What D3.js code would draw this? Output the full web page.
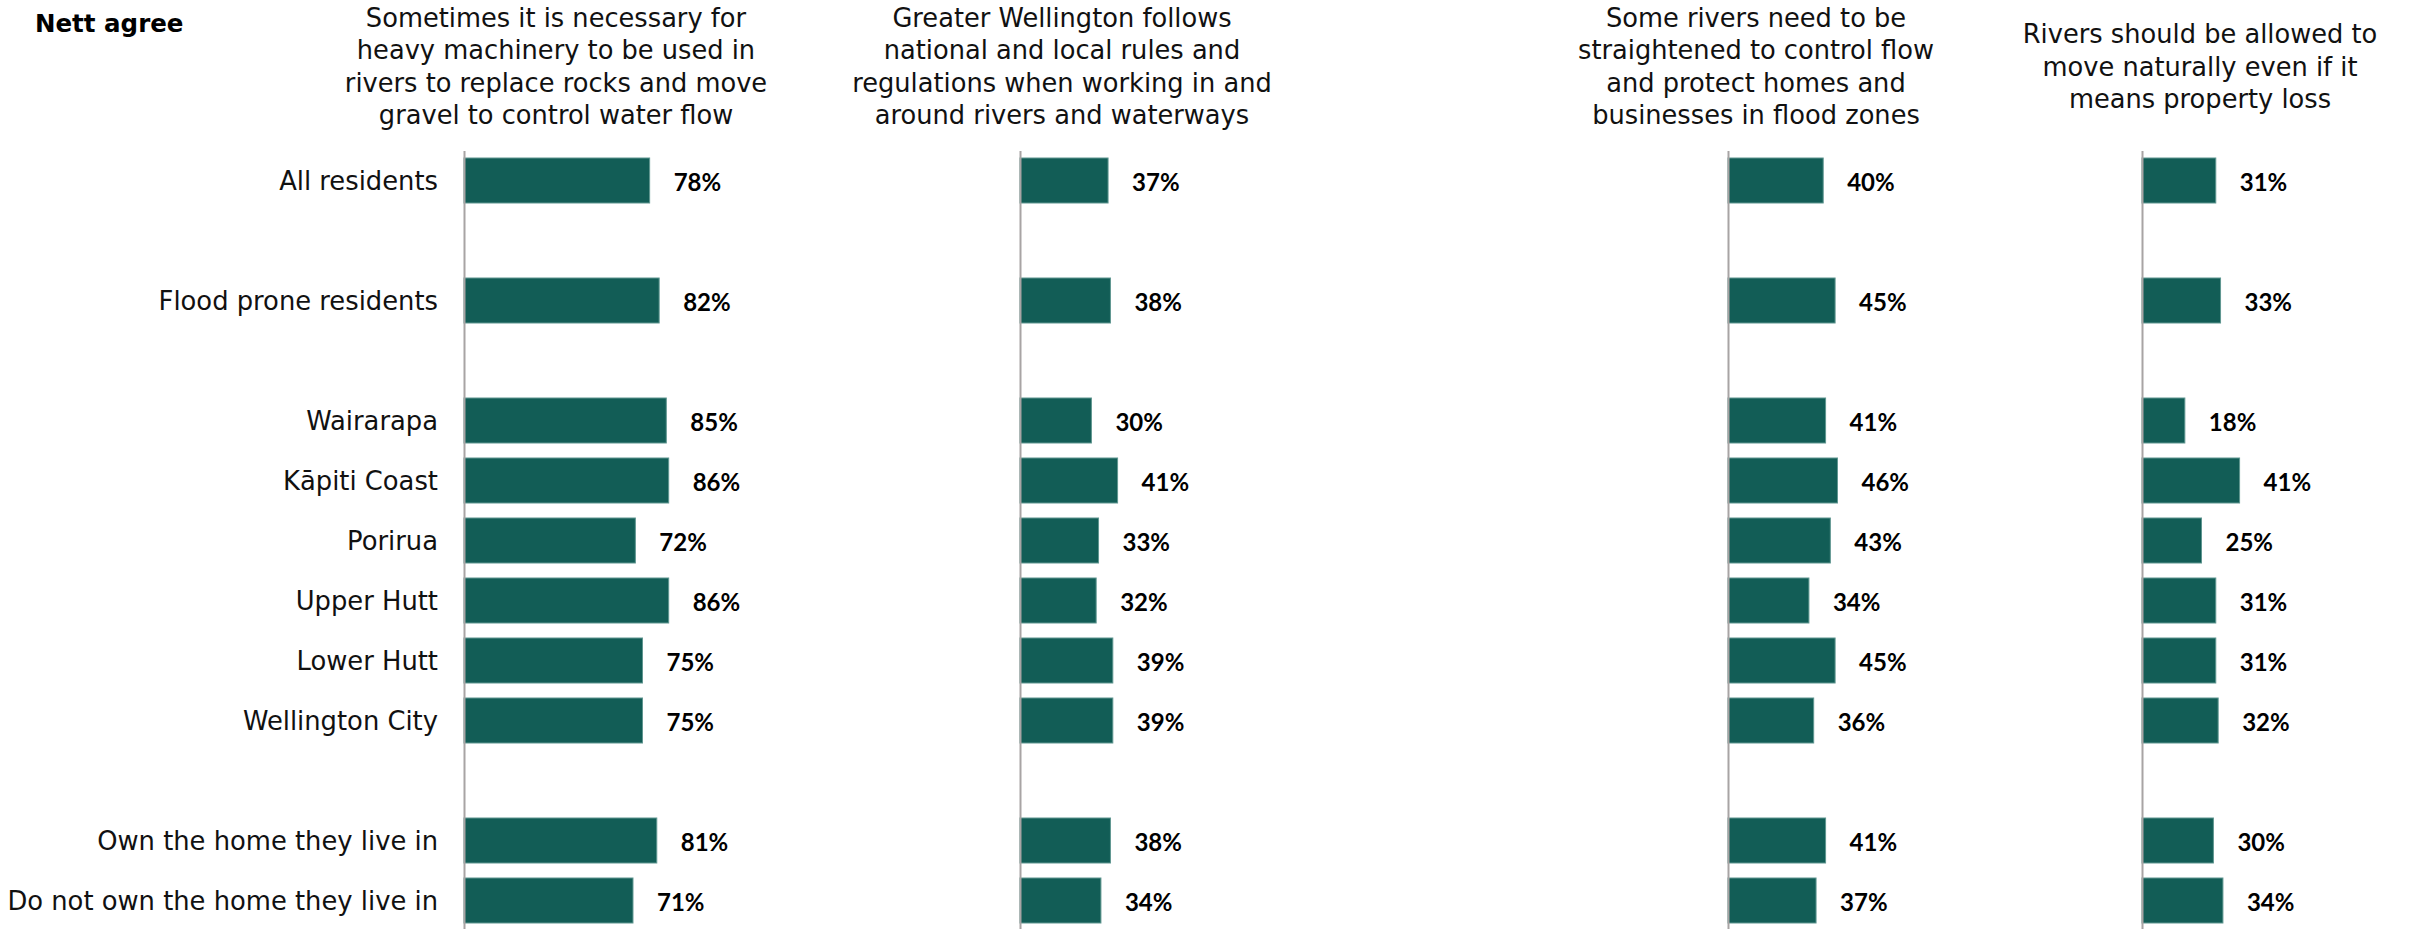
<!DOCTYPE html>
<html>
<head>
<meta charset="utf-8">
<script src="https://cdn.jsdelivr.net/npm/d3@7"></script>
<style>
  body { margin: 0; background: #ffffff; }
  #chart text { font-family: "DejaVu Sans", Lato, sans-serif; }
</style>
</head>
<body>
<div id="chart"></div>
<script>
// rows, grouped: a blank row sits between groups
const categoryGroups = [
  [`All residents`],
  [`Flood prone residents`],
  [`Wairarapa`, `Kāpiti Coast`, `Porirua`, `Upper Hutt`, `Lower Hutt`, `Wellington City`],
  [`Own the home they live in`, `Do not own the home they live in`],
];

const questionTitles = [
  [`Sometimes it is necessary for`, `heavy machinery to be used in`, `rivers to replace rocks and move`, `gravel to control water flow`],
  [`Greater Wellington follows`, `national and local rules and`, `regulations when working in and`, `around rivers and waterways`],
  [`Some rivers need to be`, `straightened to control flow`, `and protect homes and`, `businesses in flood zones`],
  [`Rivers should be allowed to`, `move naturally even if it`, `means property loss`],
];

// Nett agree (%), same order as the rows above
const machineryValues = [78, 82, 85, 86, 72, 86, 75, 75, 81, 71];
const rulesValues = [37, 38, 30, 41, 33, 32, 39, 39, 38, 34];
const straightenValues = [40, 45, 41, 46, 43, 34, 45, 36, 41, 37];
const naturalValues = [31, 33, 18, 41, 25, 31, 31, 32, 30, 34];

const seriesValues = [machineryValues, rulesValues, straightenValues, naturalValues];

const options = {
  width: 2412,
  height: 929,
  rowTop: 150.5,
  rowStep: 60,
  barWidthFull: 238, // px for 100%
  panels: [
    { axisX: 464, titleX: 556 },
    { axisX: 1020, titleX: 1062 },
    { axisX: 1728, titleX: 1756 },
    { axisX: 2142, titleX: 2200 },
  ],
  title: { midY: 75.5, lineHeight: 32.5, size: `25.7px` },
  label: { size: `25.8px`, pad: 26 },
  value: { size: `24px`, gap: 24, format: (v) => `${v}%` },
  colors: { bar: `#125d56`, barEdge: `#5f9690`, axis: `#a8a4a4`, text: `#111111` },
};

function renderChart(domId) {
  const id = domId.replace(/^#/i, ``);
  d3.select(`#${id}`).selectAll(`*`).remove();

  const categories = categoryGroups.flat();

  // row slots incl. blank rows between groups
  const slots = [];
  categoryGroups.forEach((g, i) => {
    slots.push(...g);
    if (i < categoryGroups.length - 1) slots.push(`__gap${i}`);
  });

  const svg = d3
    .select(`#${id}`)
    .append(`svg`)
    .attr(`width`, options.width)
    .attr(`height`, options.height)
    .attr(`viewBox`, `0 0 ${options.width} ${options.height}`);

  const yScale = d3.scaleBand()
    .domain(slots)
    .range([options.rowTop, options.rowTop + options.rowStep * slots.length])
    .paddingInner(0.25)
    .paddingOuter(0.125);

  svg.append(`text`)
    .attr(`x`, 35)
    .attr(`y`, 32)
    .style(`font-size`, `24.5px`)
    .style(`font-weight`, `bold`)
    .attr(`fill`, `#000`)
    .text(`Nett agree`);

  options.panels.forEach((panel, pi) => {
    const values = seriesValues[pi];
    const data = categories.map((c, i) => ({ category: c, value: values[i] }));

    const xScale = d3.scaleLinear()
      .domain([0, 100])
      .range([panel.axisX, panel.axisX + options.barWidthFull]);

    const g = svg.append(`g`);

    // question title
    const lines = questionTitles[pi];
    g.append(`g`)
      .selectAll(`text`)
      .data(lines)
      .join(`text`)
      .attr(`x`, panel.titleX)
      .attr(`y`, (d, i) => options.title.midY + (i - (lines.length - 1) / 2) * options.title.lineHeight)
      .attr(`text-anchor`, `middle`)
      .style(`font-size`, options.title.size)
      .attr(`fill`, options.colors.text)
      .text((d) => d);

    // bars
    g.append(`g`)
      .selectAll(`rect`)
      .data(data)
      .join(`rect`)
      .attr(`x`, xScale(0))
      .attr(`y`, (d) => yScale(d.category))
      .attr(`width`, (d) => xScale(d.value) - xScale(0))
      .attr(`height`, yScale.bandwidth())
      .attr(`fill`, options.colors.bar)
      .attr(`stroke`, options.colors.barEdge)
      .attr(`stroke-width`, 1);

    // values
    g.append(`g`)
      .selectAll(`text`)
      .data(data)
      .join(`text`)
      .attr(`x`, (d) => xScale(d.value) + options.value.gap)
      .attr(`y`, (d) => yScale(d.category) + yScale.bandwidth() / 2)
      .attr(`dy`, `0.45em`)
      .style(`font-size`, options.value.size)
      .style(`font-weight`, `bold`)
      .style(`font-family`, `Lato, "DejaVu Sans", sans-serif`)
      .attr(`fill`, `#000`)
      .text((d) => options.value.format(d.value));

    // vertical axis (labels on first panel only)
    const axis = d3.axisLeft(yScale)
      .tickValues(categories)
      .tickSize(0)
      .tickSizeOuter(0)
      .tickPadding(options.label.pad);
    if (pi > 0) axis.tickFormat(() => ``);

    const axisG = g.append(`g`)
      .attr(`transform`, `translate(${xScale(0)}, 0)`)
      .call(axis);
    axisG.select(`.domain`)
      .attr(`stroke`, options.colors.axis)
      .attr(`stroke-width`, 2);
    axisG.selectAll(`.tick text`)
      .attr(`dy`, `0.36em`)
      .style(`font-size`, options.label.size)
      .style(`font-family`, `"DejaVu Sans", Lato, sans-serif`)
      .attr(`fill`, options.colors.text);
  });
}

renderChart(`#chart`);
</script>
</body>
</html>
